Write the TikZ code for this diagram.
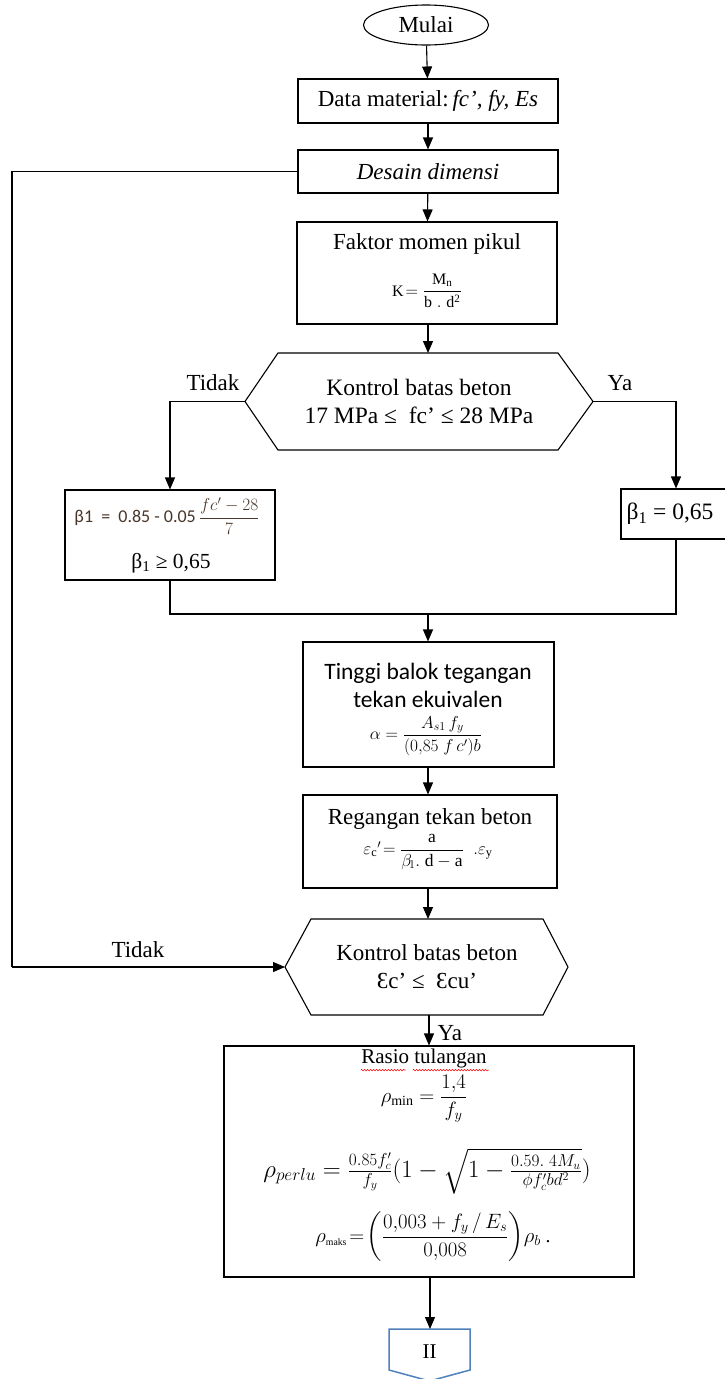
\documentclass[tikz,border=0pt]{standalone}
\usepackage{amsmath}
\usepackage{fontspec}
\setmainfont{Liberation Serif}
\newfontfamily\calibri{Carlito}
\usetikzlibrary{arrows.meta,calc,shapes.geometric,decorations.pathmorphing}
\definecolor{iiblue}{RGB}{79,129,189}
\definecolor{formbrown}{RGB}{72,54,42}

\begin{document}
\begin{tikzpicture}[x=1pt,y=-1pt,line width=1.1pt,
  flow/.style={-{Triangle[width=10pt,length=12pt]}},
  frame/.style={draw,fill=white,rectangle,inner sep=0pt},
  txt/.style={inner sep=0pt,font=\fontsize{23}{28}\selectfont},
  cal/.style={inner sep=0pt,font=\calibri\fontsize{23.5}{26}\selectfont},
  frm/.style={inner sep=0pt,font=\fontsize{16.5}{19}\selectfont},
  big/.style={inner sep=0pt,font=\fontsize{20}{24}\selectfont}]
\useasboundingbox (0,0) rectangle (725,1379);
\fill[white] (0,0) rectangle (725,1379);

% --- start and input ---
\node[draw,fill=white,ellipse,minimum width=125pt,minimum height=40pt,inner sep=0pt,
      font=\fontsize{23}{26}\selectfont] (start) at (426,25) {Mulai};
\node[frame,minimum width=260pt,minimum height=44pt,font=\fontsize{23}{26}\selectfont]
      (data) at (428,101) {Data material:\,\textit{fc’, fy, Es}};
\node[frame,minimum width=260pt,minimum height=43pt,font=\fontsize{23}{26}\selectfont]
      (desain) at (428,171.5) {\textit{Desain dimensi}};

% --- moment factor ---
\node[frame,minimum width=260pt,minimum height=102pt] (faktor) at (427,273) {};
\node[txt] (faktorT) at (427,244) {Faktor momen pikul};
\node[inner sep=0pt,font=\fontsize{16}{18}\selectfont] (faktorF) at (427,291)
      {$\mathrm{K}\!=\dfrac{\mathrm{M_n}}{\mathrm{b\;.\;d^2}}$};

% --- first check (hexagon) ---
\coordinate (h1w) at (245,401.5);
\coordinate (h1e) at (593,401.5);
\coordinate (h1n) at (428,353);
\draw[fill=white] (h1w) -- (278,353) -- (558,353) -- (h1e) -- (558,450) -- (278,450) -- cycle;
\node[txt,align=center,font=\fontsize{23.5}{28}\selectfont] (hex1) at (419,401)
      {Kontrol batas beton\\17 MPa ≤~ fc’ ≤ 28 MPa};
\node[txt] (no1) at (213,383) {Tidak};
\node[txt] (yes1) at (620,383) {Ya};

% --- beta_1 boxes ---
\node[frame,minimum width=210pt,minimum height=90pt] (b1l) at (170,535) {};
\node[inner sep=0pt,text=formbrown,font=\calibri\fontsize{18}{20}\selectfont] (b1lF) at (167,516)
      {β1~~=~~0.85 - 0.05\,$\dfrac{fc'-28}{7}$};
\node[inner sep=0pt,font=\fontsize{21.5}{24}\selectfont] (b1lT) at (171,563) {β\textsubscript{1} ≥ 0,65};
\node[frame,minimum width=110pt,minimum height=50pt] (b1r) at (676,514) {};
\node[inner sep=0pt,font=\fontsize{23.5}{26}\selectfont] (b1rT) at (670,514) {β\textsubscript{1} = 0,65};

\coordinate (mL) at (170,614);
\coordinate (mR) at (676,614);
\coordinate (mC) at (428,614);

% --- compression block depth ---
\node[frame,minimum width=251pt,minimum height=125pt] (tinggi) at (428.5,704.5) {};
\node[cal] (tinggiA) at (428,673) {Tinggi balok tegangan};
\node[cal] (tinggiB) at (428,699) {tekan ekuivalen};
\node[frm] (tinggiF) at (426,736) {$\alpha = \dfrac{A_{s1}\,f_y}{(0{,}85\;f\,c')b}$};

% --- concrete strain ---
\node[frame,minimum width=254pt,minimum height=93pt] (regangan) at (430,841.5) {};
\node[txt] (reganganT) at (430,819) {Regangan tekan beton};
\node[inner sep=0pt,font=\fontsize{17.5}{20}\selectfont] (reganganF) at (428,852)
      {$\mathrm{\varepsilon_c{}'}\!= \dfrac{\mathrm{a}}{\beta_{\!1}\mathrm{.\;d - a}}\;\;\mathrm{.}\varepsilon_{\mathrm{y}}$};

% --- second check (hexagon) ---
\coordinate (h2w) at (285,967);
\coordinate (h2n) at (428,919);
\coordinate (h2s) at (429,1015);
\draw[fill=white] (h2w) -- (311,919) -- (543,919) -- (568,967) -- (543,1015) -- (311,1015) -- cycle;
\node[txt,align=center] (hex2) at (427,967) {Kontrol batas beton\\Ɛc’ ≤~ Ɛcu’};
\node[txt] (no2) at (138,950) {Tidak};
\node[txt,anchor=west] (yes2) at (437,1033) {Ya};

% --- reinforcement ratio ---
\node[frame,minimum width=410pt,minimum height=231pt] (rasio) at (429,1161.5) {};
\node[inner sep=0pt,font=\fontsize{21}{24}\selectfont] (rtitle) at (424,1058) {Rasio tulangan};
\draw[red,line width=0.5pt,decorate,decoration={snake,amplitude=0.8pt,segment length=3pt}]
      ($(rtitle.south west)+(0,2)$) -- ++(45,0);
\draw[red,line width=0.5pt,decorate,decoration={snake,amplitude=0.8pt,segment length=3pt}]
      ($(rtitle.south west)+(52,2)$) -- ++(76,0);
\node[big] (rmin) at (424,1099) {$\rho_{\mathrm{min}} = \dfrac{1{,}4}{f_y}$};
\node[inner sep=0pt,font=\fontsize{25.5}{28}\selectfont] (rperlu) at (427,1171)
      {$\rho_{perlu} = \frac{0.85f'_c}{f_y}(1-\sqrt{1-\frac{0.59.\;4M_u}{\phi f'_c bd^2}})$};
\node[inner sep=0pt,font=\fontsize{19.5}{24}\selectfont] (rmaks) at (433,1237)
      {$\rho_{\scriptscriptstyle\mathrm{maks}}\! = \!\left(\dfrac{0{,}003+f_y\,/\,E_s}{0{,}008}\right)\!\rho_b$ .};

% --- off-page connector ---
\draw[iiblue,line width=1.5pt,fill=white] (389,1329) -- (470,1329) -- (470,1370) -- (429.5,1381) -- (389,1370) -- cycle;
\coordinate (iin) at (430,1329);
\node[inner sep=0pt,font=\fontsize{21}{24}\selectfont] (ii) at (429.5,1352) {II};

% --- connectors ---
\draw[flow] (start) -- (data);
\draw[flow] (data) -- (desain);
\draw[flow] (desain) -- (faktor);
\draw[flow] (faktor.south -| h1n) -- (h1n);
\draw[flow] (h1w) -| (b1l.north);
\draw[flow] (h1e) -| (b1r.north);
\draw (b1l.south) -- (mL) -- (mR) -- (b1r.south);
\draw[flow] (mC) -- (tinggi.north -| mC);
\draw[flow] (tinggi.south -| mC) -- (regangan.north -| mC);
\draw[flow] (regangan.south -| h2n) -- (h2n);
\draw[flow] (h2s) -- (rasio.north -| h2s);
\draw[flow] (rasio.south -| iin) -- (iin);
% loop back from the second check to the design step
\coordinate (loopT) at (12,171.5);
\coordinate (loopB) at (12,967);
\draw (desain.west) -- (loopT) -- (loopB);
\draw[flow] (loopB) -- (h2w);
\end{tikzpicture}
\end{document}
